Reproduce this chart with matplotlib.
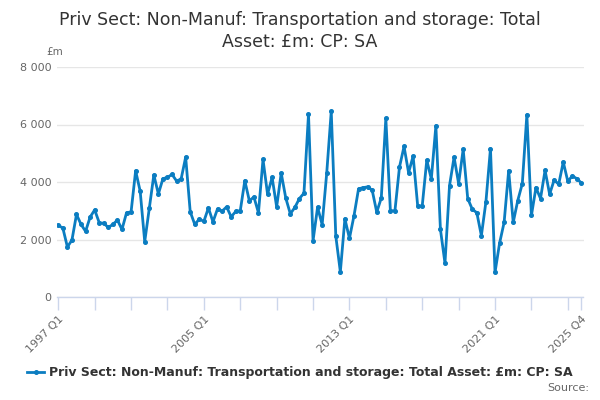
import numpy as np
import matplotlib
matplotlib.use("Agg")
import matplotlib.pyplot as plt
from matplotlib.ticker import FuncFormatter

# quarterly series, 1997 Q1 .. 2025 Q4
values = [
    2490, 2400, 1740, 1980, 2870, 2525, 2285, 2780, 3030, 2585,
    2560, 2420, 2525, 2675, 2350, 2930, 2960, 4390, 3680, 1925,
    3080, 4245, 3585, 4115, 4160, 4265, 4035, 4105, 4865, 2965,
    2525, 2710, 2630, 3100, 2615, 3065, 2985, 3135, 2790, 2975,
    3000, 4045, 3345, 3480, 2930, 4785, 3575, 4160, 3135, 4310,
    3445, 2895, 3115, 3425, 3610, 6355, 1960, 3125, 2515, 4300,
    6455, 2120, 875, 2720, 2040, 2825, 3760, 3805, 3830, 3715,
    2950, 3445, 6215, 3000, 3000, 4520, 5235, 4325, 4900, 3170,
    3170, 4760, 4105, 5955, 2350, 1175, 3875, 4865, 3945, 5140,
    3425, 3055, 2930, 2135, 3310, 5165, 855, 1870, 2595, 4395,
    2595, 3355, 3945, 6340, 2835, 3805, 3425, 4405, 3575, 4070,
    3920, 4695, 4025, 4210, 4115, 3965,
]
years = list(range(1997, 2026))
quarters = [f"{y} Q{q}" for y in years for q in range(1, 5)]
shown_labels = ["1997 Q1", "2005 Q1", "2013 Q1", "2021 Q1", "2025 Q4"]
title_lines = ["Priv Sect: Non-Manuf: Transportation and storage: Total",
               "Asset: £m: CP: SA"]
series_name = "Priv Sect: Non-Manuf: Transportation and storage: Total Asset: £m: CP: SA"

line_col = "#0b7dc1"
axis_col = "#ccd6eb"

fig = plt.figure(figsize=(6, 4), dpi=100)
ax = fig.add_axes([0.0945, 0.2575, 0.878, 0.575])

x = np.arange(len(values))
ax.plot(x, values, color=line_col, lw=2, marker="o", ms=2.6, label=series_name)

ax.set_xlim(-0.35, len(values) - 1 + 0.45)
ax.set_ylim(0, 8000)
ax.set_yticks([0, 2000, 4000, 6000, 8000])
ax.yaxis.set_major_formatter(FuncFormatter(lambda v, p: f"{int(v):,}".replace(",", " ")))
ax.grid(axis="y", color="#e6e6e6", lw=1)
ax.set_axisbelow(True)

# ticks every two years, labels only at a few
tick_pos = [quarters.index(f"{y} Q1") for y in years if (y - 1997) % 2 == 0]
tick_pos.append(len(quarters) - 1)
tick_lab = [quarters[i] if quarters[i] in shown_labels else "" for i in tick_pos]
ax.set_xticks(tick_pos)
ax.set_xticklabels(tick_lab, rotation=45, ha="right", rotation_mode="anchor")
ax.tick_params(axis="x", length=9, width=1, color=axis_col, labelsize=8,
               labelcolor="#666666", pad=3)
ax.tick_params(axis="y", length=0, labelsize=8, labelcolor="#666666", pad=4)

for s in ["top", "right", "left"]:
    ax.spines[s].set_visible(False)
ax.spines["bottom"].set_color(axis_col)
ax.spines["bottom"].set_linewidth(1)

fig.text(0.5, 0.95, title_lines[0], ha="center", va="center", fontsize=12.5,
         color="#333333")
fig.text(0.5, 0.895, title_lines[1], ha="center", va="center", fontsize=12.5,
         color="#333333")
fig.text(0.078, 0.87, "£m", ha="left", va="center", fontsize=7.5, color="#666666")

leg = fig.legend(loc="center", bbox_to_anchor=(0.5, 0.068), frameon=False,
                 prop={"weight": "bold", "size": 9}, handlelength=1.4,
                 handletextpad=0.4, markerscale=1)
for t in leg.get_texts():
    t.set_color("#333333")
fig.text(0.982, 0.018, "Source:", ha="right", va="bottom", fontsize=8, color="#666666")

fig.savefig("out.png", dpi=100)
